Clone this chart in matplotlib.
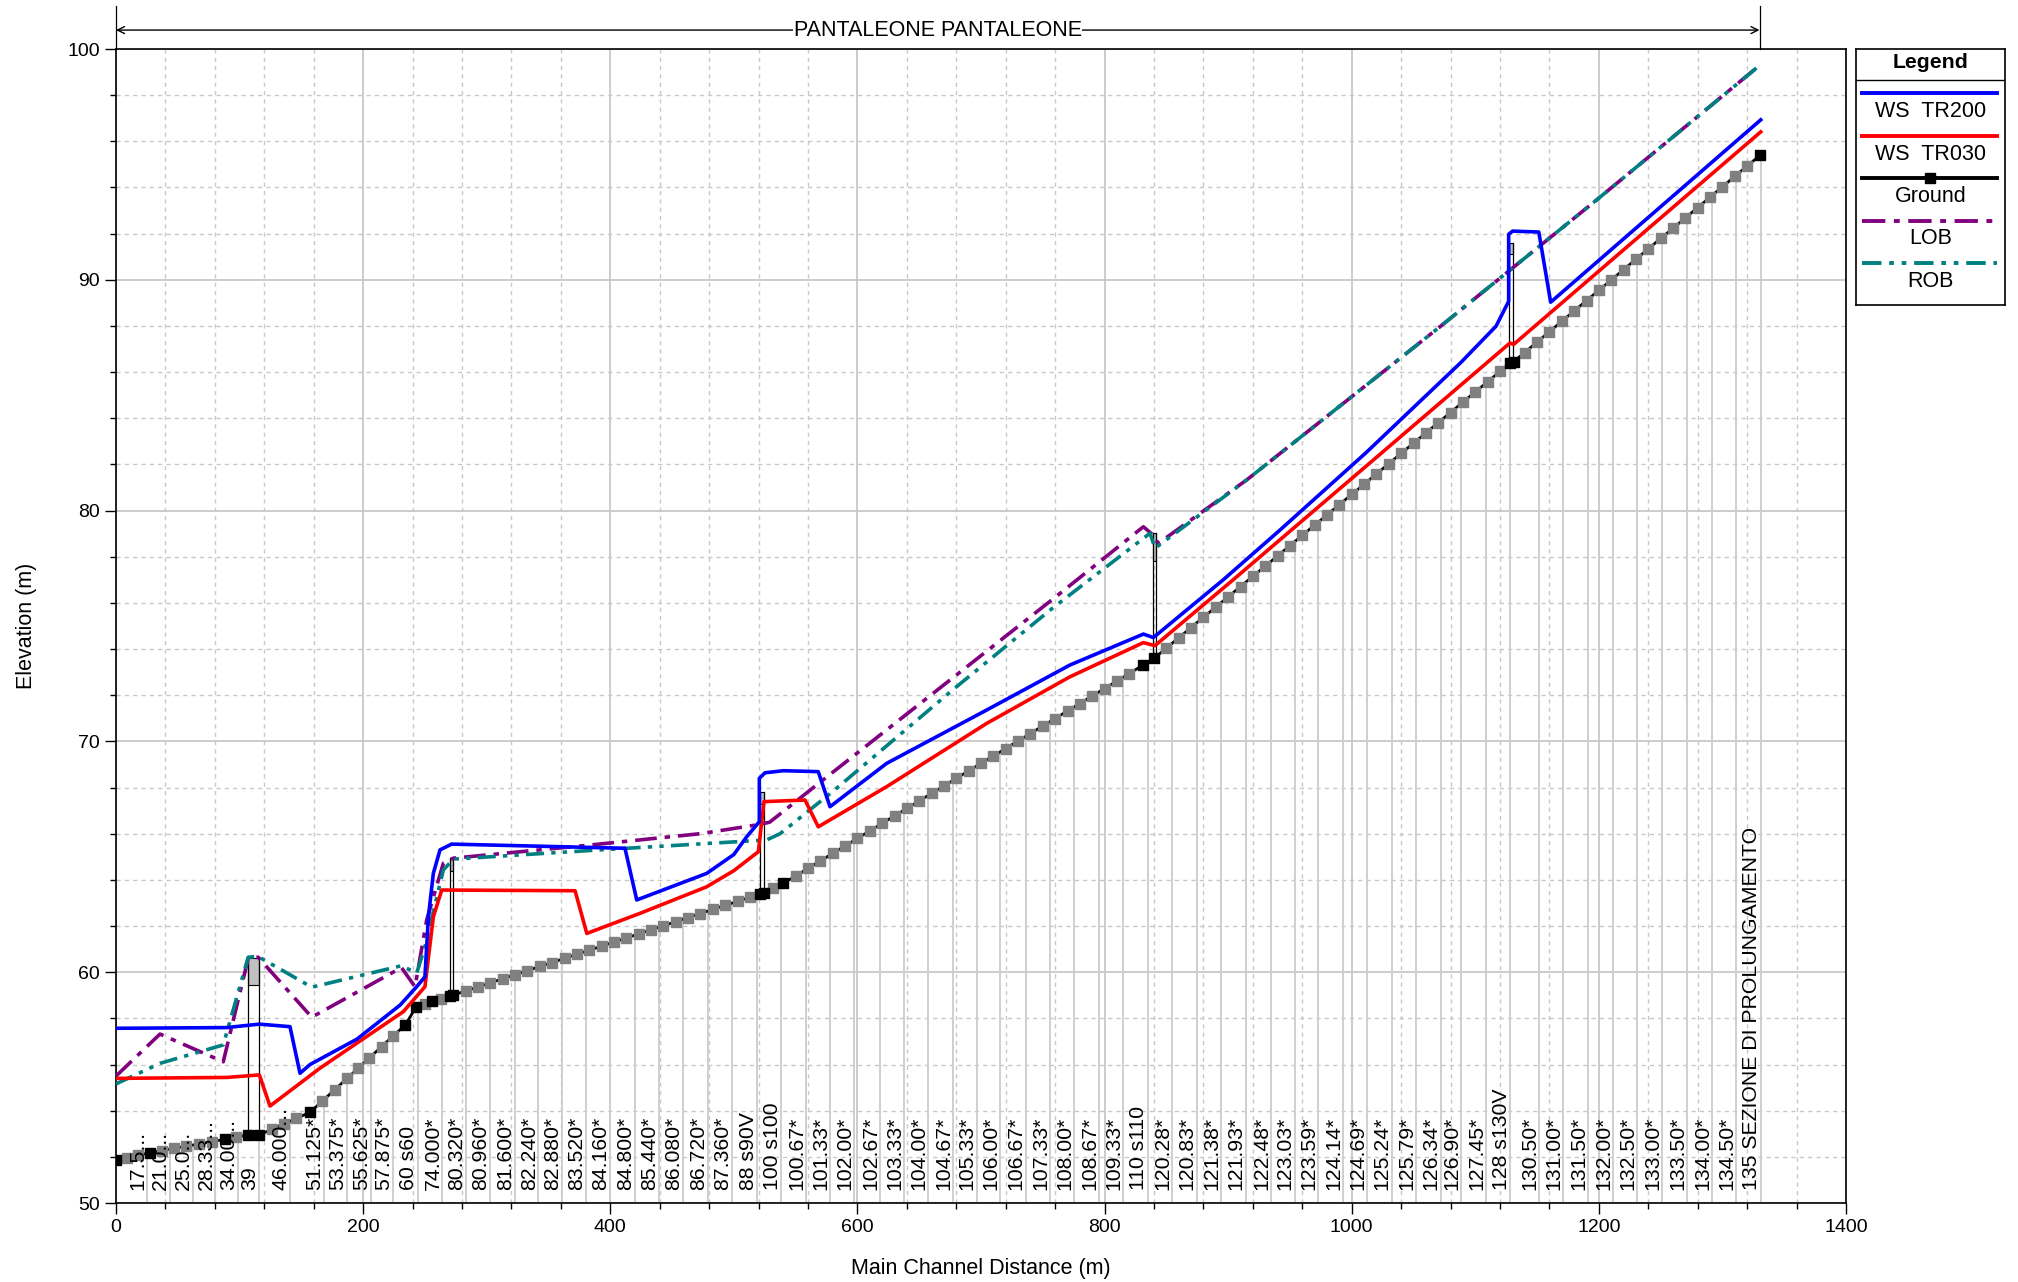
import numpy as np
import matplotlib
matplotlib.use("Agg")
import matplotlib.pyplot as plt
from matplotlib.ticker import MultipleLocator

plt.rcParams['font.family'] = ['Liberation Sans', 'DejaVu Sans']

# ---------------- data ----------------
ws200_x = [0, 89.6, 107, 116, 140.8, 148.9, 157, 195, 230, 243.3, 250, 252.8, 256.8, 262.2, 271.6,
           411.9, 421.4, 478, 500, 510.4, 520.6, 520.6, 525.2, 540, 568.3, 577.8, 623.7, 704.6, 772,
           831.4, 839.5, 896, 942, 1011.2, 1088, 1116.8, 1127, 1127, 1130.2, 1151.4, 1161, 1331]
ws200_y = [57.57, 57.6, 57.7, 57.75, 57.64, 55.62, 56.0, 57.1, 58.58, 59.37, 59.8, 62.4, 64.28, 65.3, 65.55,
           65.37, 63.13, 64.28, 65.1, 65.87, 66.52, 68.4, 68.64, 68.73, 68.69, 67.17, 69.05, 71.36, 73.31,
           74.65, 74.5, 77.0, 79.16, 82.49, 86.4, 87.99, 89.07, 91.97, 92.11, 92.07, 89.03, 96.93]

ws030_x = [0, 89.6, 116, 124.6, 165, 232.5, 250, 256.8, 263.6, 371.5, 381, 424, 478, 500, 519.8, 524.4,
           557.6, 568.3, 623.7, 704.6, 772, 831.4, 840.8, 904, 1024, 1128, 1131, 1331]
ws030_y = [55.4, 55.44, 55.55, 54.2, 55.84, 58.29, 59.37, 62.4, 63.56, 63.53, 61.68, 62.55, 63.7, 64.4, 65.22, 67.39,
           67.46, 66.3, 68.04, 70.78, 72.8, 74.28, 74.15, 77.0, 82.49, 87.26, 87.2, 96.41]

lob_x = [0, 35.6, 86.8, 107, 115, 158.4, 231, 242, 251.4, 264.9, 273, 383.6, 472.6, 520.6, 529, 575,
         758.5, 831.4, 838, 843.5, 915, 1071.5, 1198.2, 1331]
lob_y = [55.5, 57.32, 56.12, 60.6, 60.65, 58.05, 60.2, 59.37, 62.26, 64.72, 64.94, 65.51, 66.0, 66.4, 66.5, 68.45,
         76.18, 79.3, 79.0, 78.58, 81.33, 87.97, 93.46, 99.33]

rob_x = [0, 35.6, 86.8, 107, 115, 158.4, 231, 243.3, 250, 264.9, 273, 391.7, 526.5, 537.4, 580.5,
         677.5, 758.5, 836.8, 840.8, 915, 1071.5, 1198.2, 1331]
rob_y = [55.16, 56.05, 56.85, 60.65, 60.68, 59.35, 60.28, 59.96, 61.1, 64.43, 64.9, 65.3, 65.73, 66.0, 67.85,
         72.25, 75.8, 79.02, 78.37, 81.33, 87.97, 93.46, 99.33]

# ground at surveyed sections (black markers)
gr_real_x = [0, 27.5, 88.2, 107, 116, 157, 234, 243, 256, 270, 273, 521, 524.4, 540, 831, 840, 1128, 1131, 1330.6]
gr_real_y = [51.86, 52.18, 52.76, 52.95, 52.95, 53.93, 57.71, 58.5, 58.75, 58.97, 59.01, 63.39, 63.45, 63.85,
             73.3, 73.6, 86.38, 86.45, 95.4]

# ground at interpolated sections (grey markers)
gr_int_x = [9, 18, 37, 47, 57, 67, 78, 97, 126, 136, 146, 167, 177, 187, 196, 205, 215, 224, 250, 263,
            283, 293, 303, 313, 323, 333, 343, 353, 363, 373, 383, 393, 403, 413, 423, 433, 443, 453, 463, 473,
            483, 493, 503, 513, 532,
            550, 560, 570, 580, 590, 600, 610, 620, 630, 640, 650, 660, 670, 680, 690, 700, 710, 720, 730, 740,
            750, 760, 770, 780, 790, 800, 810, 820,
            850, 860, 870, 880, 890, 900, 910, 920, 930, 940, 950, 960, 970, 980, 990, 1000, 1010, 1020, 1030,
            1040, 1050, 1060, 1070, 1080, 1090, 1100, 1110, 1120,
            1140, 1150, 1160, 1170, 1180, 1190, 1200, 1210, 1220, 1230, 1240, 1250, 1260, 1270, 1280, 1290,
            1300, 1310, 1320]
gr_int_y = [51.96, 52.07, 52.27, 52.37, 52.46, 52.56, 52.66, 52.85, 53.19, 53.43, 53.67, 54.42, 54.91, 55.40,
            55.84, 56.28, 56.78, 57.22, 58.63, 58.86,
            59.19, 59.36, 59.54, 59.72, 59.89, 60.07, 60.25, 60.42, 60.60, 60.78, 60.95, 61.13, 61.31, 61.48,
            61.66, 61.84, 62.01, 62.19, 62.37, 62.54, 62.72, 62.90, 63.07, 63.25, 63.65,
            64.17, 64.50, 64.82, 65.15, 65.47, 65.80, 66.12, 66.45, 66.77, 67.10, 67.42, 67.75, 68.07, 68.40,
            68.72, 69.05, 69.37, 69.69, 70.02, 70.34, 70.67, 70.99, 71.32, 71.64, 71.97, 72.29, 72.62, 72.94,
            74.04, 74.49, 74.93, 75.38, 75.82, 76.26, 76.71, 77.15, 77.59, 78.04, 78.48, 78.93, 79.37, 79.81,
            80.26, 80.70, 81.14, 81.59, 82.03, 82.48, 82.92, 83.36, 83.81, 84.25, 84.70, 85.14, 85.58, 86.03,
            86.85, 87.30, 87.75, 88.20, 88.65, 89.10, 89.54, 89.99, 90.44, 90.89, 91.34, 91.79, 92.23, 92.68,
            93.13, 93.58, 94.03, 94.48, 94.93]

# bridges: upstream / downstream face, low chord, high chord
br_x1 = [107, 270, 521, 839, 1127.5]
br_x2 = [116, 273, 524.4, 841.6, 1130.8]
br_low = [59.45, 64.4, 67.3, 77.83, 91.1]
br_top = [60.6, 64.95, 67.82, 79.02, 91.58]

# river-station labels and the stations they mark
rs_labels = ["17.5...", "21.0...", "25.0...", "28.33...", "34.00...", "39", "46.000...", "51.125*", "53.375*",
             "55.625*", "57.875*", "60 s60", "74.000*", "80.320*", "80.960*", "81.600*", "82.240*", "82.880*",
             "83.520*", "84.160*", "84.800*", "85.440*", "86.080*", "86.720*", "87.360*", "88 s90V", "100 s100",
             "100.67*", "101.33*", "102.00*", "102.67*", "103.33*", "104.00*", "104.67*", "105.33*", "106.00*",
             "106.67*", "107.33*", "108.00*", "108.67*", "109.33*", "110 s110",
             "120.28*", "120.83*", "121.38*", "121.93*", "122.48*", "123.03*", "123.59*", "124.14*", "124.69*",
             "125.24*", "125.79*", "126.34*", "126.90*", "127.45*", "128 s130V",
             "130.50*", "131.00*", "131.50*", "132.00*", "132.50*", "133.00*", "133.50*", "134.00*", "134.50*",
             "135 SEZIONE DI PROLUNGAMENTO"]
rs_x = [25.4, 43.7, 62.3, 80.4, 98.8, 115.6, 141.2, 168.3, 186.9, 206.2, 224.4, 244.4, 264.0, 283.0,
        302.6, 322.7, 341.9, 361.2, 380.5, 399.8, 419.8, 439.5, 459.1, 478.8, 498.1, 519.1, 538.5,
        558.5, 578.2, 597.1, 618.2, 637.5, 657.1, 677.1, 696.4, 715.7, 736.1, 756.1, 775.4, 795.7, 815.1, 835.1,
        854.4, 874.4, 894.0, 914.1, 934.4, 953.7, 973.0, 993.0, 1012.3, 1032.3, 1051.9, 1071.9,
        1088.4, 1108.4, 1128.4, 1151.3, 1171.3, 1191.3, 1211.3, 1231.1, 1251.1, 1271.1, 1291.3, 1311.2, 1330.9]

reach_name = "PANTALEONE PANTALEONE"
legend_names = ["WS  TR200", "WS  TR030", "Ground", "LOB", "ROB"]

# ---------------- figure ----------------
W, H = 2018, 1282
fig = plt.figure(figsize=(W / 100, H / 100), dpi=100)
ax = fig.add_axes([116 / W, 1 - 1203 / H, 1730 / W, 1154 / H])
ax.set_xlim(0, 1400)
ax.set_ylim(50, 100)

ax.xaxis.set_major_locator(MultipleLocator(200))
ax.xaxis.set_minor_locator(MultipleLocator(40))
ax.yaxis.set_major_locator(MultipleLocator(10))
ax.yaxis.set_minor_locator(MultipleLocator(2))
ax.grid(which='major', color='#c8c8c8', lw=1.3, ls='-')
ax.grid(which='minor', color='#c8c8c8', lw=1.0, ls=(0, (3, 3)))
ax.set_axisbelow(True)
ax.tick_params(which='major', length=8, width=1, labelsize=14, direction='out')
ax.tick_params(which='minor', length=4, width=1, direction='out')
for s in ax.spines.values():
    s.set_linewidth(1.2)

gx = np.array(gr_real_x + gr_int_x)
gy = np.array(gr_real_y + gr_int_y)
order = np.argsort(gx)
gx, gy = gx[order], gy[order]

# section lines from the axis bottom up to the ground
ax.vlines(rs_x, 50, np.interp(rs_x, gx, gy), color='#cfcfcf', lw=1.4, zorder=1)

# bridges
for x1, x2, lo, hi in zip(br_x1, br_x2, br_low, br_top):
    g1, g2 = np.interp(x1, gx, gy), np.interp(x2, gx, gy)
    ax.fill([x1, x2, x2, x1], [lo, lo, hi, hi], facecolor='#c0c0c0', edgecolor='black', lw=0.8, zorder=2.5)
    ax.plot([x1, x1], [g1, hi], color='black', lw=0.9, zorder=2.6)
    ax.plot([x2, x2], [g2, hi], color='black', lw=0.9, zorder=2.6)

# ground
ax.plot(gx, gy, color='black', lw=2.0, zorder=3)
ax.plot(gr_int_x, gr_int_y, ls='none', marker='s', ms=7, mfc='#808080', mec='#808080', zorder=3.1)
ax.plot(gr_real_x, gr_real_y, ls='none', marker='s', ms=7, mfc='black', mec='black', zorder=3.2)

lob_ls = (0, (6, 2.2, 1.5, 2.2))
rob_ls = (0, (5, 2, 1.2, 2, 1.2, 2))
ax.plot(lob_x, lob_y, color='#800080', lw=2.6, ls=lob_ls, zorder=4)
ax.plot(rob_x, rob_y, color='#008080', lw=2.6, ls=rob_ls, zorder=4)
ax.plot(ws030_x, ws030_y, color='#ff0000', lw=2.6, zorder=5)
ax.plot(ws200_x, ws200_y, color='#0000ff', lw=2.6, zorder=5)

# river station labels
for lab, x in zip(rs_labels, rs_x):
    ax.text(x - 7.5, 50.55, lab, rotation=90, ha='center', va='bottom', fontsize=15.3, zorder=6)

ax.set_xlabel('Main Channel Distance (m)', fontsize=15.5, labelpad=16)
ax.set_ylabel('Elevation (m)', fontsize=15.5, labelpad=22)

# reach annotation above the plot
ya = 100.82
ax.annotate('', xy=(0, ya), xytext=(1330, ya), annotation_clip=False,
            arrowprops=dict(arrowstyle='<->,head_length=0.5,head_width=0.25', color='black', lw=1,
                            shrinkA=0, shrinkB=0))
ax.plot([0, 0], [100, 101.85], color='black', lw=0.9, clip_on=False)
ax.plot([1330, 1330], [100, 101.85], color='black', lw=0.9, clip_on=False)
ax.text(665, ya, reach_name, ha='center', va='center', fontsize=15.5,
        bbox=dict(facecolor='white', edgecolor='none', pad=0.3), clip_on=False)

# legend box
lax = fig.add_axes([1856 / W, 1 - 305 / H, 149 / W, 256 / H])
lax.set_xlim(0, 149)
lax.set_ylim(256, 0)
lax.set_xticks([])
lax.set_yticks([])
for s in lax.spines.values():
    s.set_linewidth(1.2)
lax.text(74.5, 14, 'Legend', ha='center', va='center', fontsize=15.3, fontweight='bold')
lax.axhline(31, color='black', lw=1)
styles = [dict(color='#0000ff', lw=2.8), dict(color='#ff0000', lw=2.8), dict(color='black', lw=2.8),
          dict(color='#800080', lw=2.8, ls=lob_ls), dict(color='#008080', lw=2.8, ls=rob_ls)]
for i, (name, st) in enumerate(zip(legend_names, styles)):
    yl = 44 + 42.5 * i
    lax.plot([6, 141], [yl, yl], **st)
    if name == 'Ground':
        lax.plot([73.5], [yl], marker='s', ms=7, color='black', ls='none')
    lax.text(74.5, yl + 18.5, name, ha='center', va='center', fontsize=15.5)

fig.savefig('out.png', dpi=100)
